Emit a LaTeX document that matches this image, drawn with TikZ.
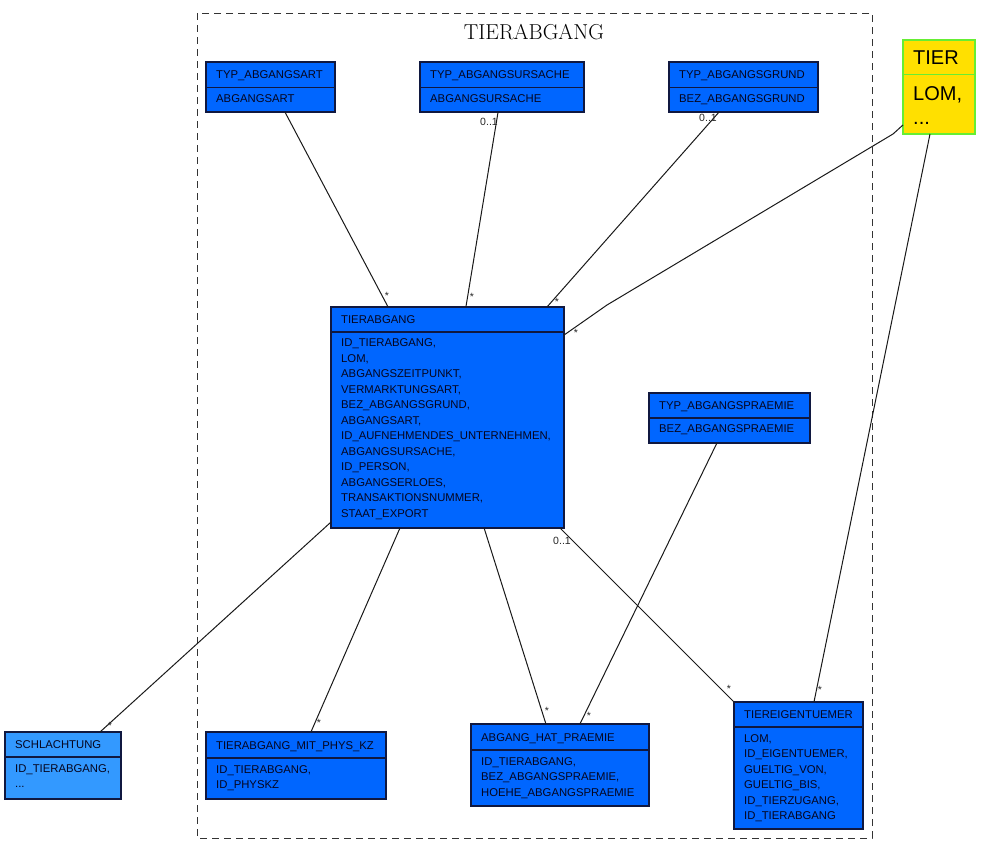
\documentclass[tikz,border=0pt]{standalone}
\usepackage{fontspec}
\newfontfamily\boxfont{Liberation Sans}
\usetikzlibrary{calc}
\definecolor{boxblue}{RGB}{0,102,255}
\definecolor{lightblue}{RGB}{51,153,255}
\definecolor{boxborder}{RGB}{16,24,64}
\definecolor{tieryellow}{RGB}{255,224,0}
\definecolor{tiergreen}{RGB}{102,238,51}
\definecolor{textcol}{RGB}{5,5,30}
\tikzset{
  x=1pt, y=-1pt,
  ebox/.style={draw=boxborder, line width=1.1pt, inner sep=0pt, outer sep=0pt, anchor=north west},
  divider/.style={draw=boxborder, line width=1.1pt},
  etitle/.style={anchor=base west, inner sep=0pt, text=textcol, font=\boxfont\fontsize{11.3}{15.5}\selectfont},
  ebody/.style={anchor=north west, inner sep=0pt, align=left, text=textcol, font=\boxfont\fontsize{11.3}{15.5}\selectfont},
  conn/.style={draw=black!90, line width=1pt},
  lbl/.style={anchor=base, inner sep=0pt, text=black!85, font=\boxfont\fontsize{10.5}{12}\selectfont},
  frame/.style={draw=black!80, line width=0.9pt, dash pattern=on 7pt off 5pt}
}
\newcommand\ent[9]{%
  \pgfmathsetmacro\entw{#4-#2}\pgfmathsetmacro\enth{#6-#3}%
  \node[ebox, fill=#7, minimum width=\entw pt, minimum height=\enth pt] (#1) at (#2,#3) {};
  \draw[divider] (#2,#5) -- (#4,#5);
  \node[etitle] (#1-t) at ({#2+10},{(#3+#5)/2+4.1}) {#8};
  \node[ebody] (#1-b) at ({#2+10},{#5+6.9}) {#9};
}
\begin{document}
\begin{tikzpicture}
\useasboundingbox (0,0) rectangle (986,844);
% package frame
\draw[frame] (197,13) rectangle (872,838);
\node[anchor=base, inner sep=0pt, font=\fontsize{21.6}{24}\selectfont] (title) at (534,39) {TIERABGANG};

% entities
\ent{ta}{206}{62}{335}{87.5}{112}{boxblue}{TYP\_ABGANGSART}{ABGANGSART}
\ent{tu}{420}{62}{584}{87.5}{112}{boxblue}{TYP\_ABGANGSURSACHE}{ABGANGSURSACHE}
\ent{tg}{669}{62}{818}{87.5}{112}{boxblue}{TYP\_ABGANGSGRUND}{BEZ\_ABGANGSGRUND}
\ent{tab}{331}{307}{564}{332}{528}{boxblue}{TIERABGANG}{ID\_TIERABGANG,\\LOM,\\ABGANGSZEITPUNKT,\\VERMARKTUNGSART,\\BEZ\_ABGANGSGRUND,\\ABGANGSART,\\ID\_AUFNEHMENDES\_UNTERNEHMEN,\\ABGANGSURSACHE,\\ID\_PERSON,\\ABGANGSERLOES,\\TRANSAKTIONSNUMMER,\\STAAT\_EXPORT}
\ent{tp}{649}{393}{810}{418}{443}{boxblue}{TYP\_ABGANGSPRAEMIE}{BEZ\_ABGANGSPRAEMIE}
\ent{sch}{5}{732}{121}{757}{799}{lightblue}{SCHLACHTUNG}{ID\_TIERABGANG,\\...}
\ent{tmp}{206}{732}{386}{758}{799}{boxblue}{TIERABGANG\_MIT\_PHYS\_KZ}{ID\_TIERABGANG,\\ID\_PHYSKZ}
\ent{ahp}{471}{724}{649}{750}{806}{boxblue}{ABGANG\_HAT\_PRAEMIE}{ID\_TIERABGANG,\\BEZ\_ABGANGSPRAEMIE,\\HOEHE\_ABGANGSPRAEMIE}
\ent{te}{734}{702}{863}{727}{829}{boxblue}{TIEREIGENTUEMER}{LOM,\\ID\_EIGENTUEMER,\\GUELTIG\_VON,\\GUELTIG\_BIS,\\ID\_TIERZUGANG,\\ID\_TIERABGANG}

% TIER (external)
\node[ebox, draw=tiergreen, fill=tieryellow, minimum width=72pt, minimum height=94pt] (tier) at (903,40) {};
\draw[draw=tiergreen, line width=1pt] (903,74) -- (975,74);
\node[anchor=base west, inner sep=0pt, font=\boxfont\fontsize{20}{24}\selectfont] (tier-t) at (913,64.2) {TIER};
\node[anchor=north west, inner sep=0pt, align=left, font=\boxfont\fontsize{20}{24}\selectfont] (tier-b) at (913,86) {LOM,\\...};

% connectors
\draw[conn] ($(ta.south west)!0.612!(ta.south east)$) -- ($(tab.north west)!0.245!(tab.north east)$);
\draw[conn] ($(tu.south west)!0.476!(tu.south east)$) -- ($(tab.north west)!0.579!(tab.north east)$);
\draw[conn] ($(tg.south west)!0.336!(tg.south east)$) -- ($(tab.north west)!0.927!(tab.north east)$);
\coordinate (bend1) at (893,134);
\coordinate (bend2) at (607,305);
\draw[conn] ($(tier.north west)!0.904!(tier.south west)$) -- (bend1) -- (bend2) -- ($(tab.north east)!0.127!(tab.south east)$);
\draw[conn] ($(tier.south west)!0.375!(tier.south east)$) -- ($(te.north west)!0.62!(te.north east)$);
\draw[conn] ($(tab.north west)!0.973!(tab.south west)$) -- ($(sch.north west)!0.819!(sch.north east)$);
\draw[conn] ($(tab.south west)!0.296!(tab.south east)$) -- ($(tmp.north west)!0.583!(tmp.north east)$);
\draw[conn] ($(tab.south west)!0.657!(tab.south east)$) -- ($(ahp.north west)!0.421!(ahp.north east)$);
\draw[conn] ($(tp.south west)!0.422!(tp.south east)$) -- ($(ahp.north west)!0.612!(ahp.north east)$);
\draw[conn] ($(tab.south west)!0.983!(tab.south east)$) -- (te.north west);

% multiplicities
\node[lbl] (m1) at (387,299) {*};
\node[lbl] (m2) at (472,300) {*};
\node[lbl] (m3) at (557,305) {*};
\node[lbl] (m4) at (576,336) {*};
\node[lbl] (m5) at (489,125) {0..1};
\node[lbl] (m6) at (708,121) {0..1};
\node[lbl] (m7) at (562,544) {0..1};
\node[lbl] (m8) at (820,693) {*};
\node[lbl] (m9) at (729,692) {*};
\node[lbl] (m10) at (547,714) {*};
\node[lbl] (m11) at (589,719) {*};
\node[lbl] (m12) at (110,729) {*};
\node[lbl] (m13) at (319,726) {*};
\end{tikzpicture}
\end{document}
